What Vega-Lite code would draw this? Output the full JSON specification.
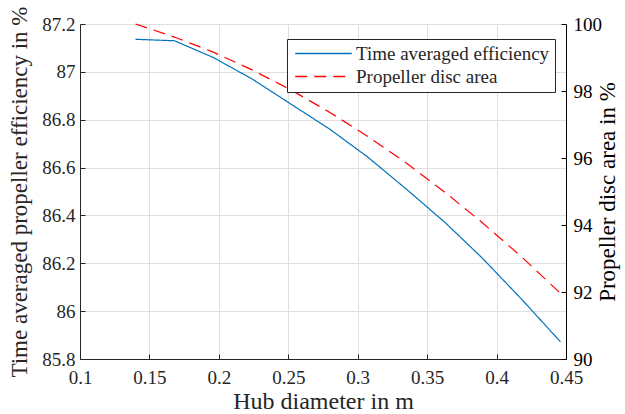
{
  "$schema": "https://vega.github.io/schema/vega-lite/v6.json",
  "width": 486,
  "height": 335,
  "autosize": "none",
  "padding": {"left": 80, "top": 24, "right": 59, "bottom": 55},
  "background": "white",
  "config": {
    "font": "Liberation Serif",
    "view": {"stroke": null},
    "axis": {
      "labelFont": "Liberation Serif",
      "labelFontSize": 19,
      "labelColor": "#262626",
      "titleFont": "Liberation Serif",
      "titleFontSize": 23,
      "titleFontWeight": "normal",
      "titleColor": "#262626",
      "domainColor": "#262626",
      "tickColor": "#262626",
      "gridColor": "#dfdfdf",
      "gridWidth": 1,
      "tickSize": -5,
      "labelPadding": 10,
      "labelFlush": false,
      "labelOverlap": false
    },
    "legend": {
      "labelFont": "Liberation Serif",
      "labelFontSize": 19,
      "labelColor": "#262626",
      "labelLimit": 0
    }
  },
  "data": {
    "values": [
      {"d": 0.140, "eff": 87.136, "area": 100.00},
      {"d": 0.168, "eff": 87.130, "area": 99.61},
      {"d": 0.196, "eff": 87.060, "area": 99.16},
      {"d": 0.224, "eff": 86.970, "area": 98.63},
      {"d": 0.252, "eff": 86.865, "area": 98.03},
      {"d": 0.280, "eff": 86.760, "area": 97.36},
      {"d": 0.307, "eff": 86.645, "area": 96.65},
      {"d": 0.335, "eff": 86.510, "area": 95.85},
      {"d": 0.363, "eff": 86.370, "area": 94.97},
      {"d": 0.390, "eff": 86.220, "area": 94.06},
      {"d": 0.418, "eff": 86.050, "area": 93.05},
      {"d": 0.446, "eff": 85.872, "area": 91.96}
    ]
  },
  "layer": [
    {
      "mark": {"type": "line", "strokeWidth": 1.2},
      "encoding": {
        "x": {
          "field": "d", "type": "quantitative",
          "scale": {"domain": [0.1, 0.45], "nice": false, "zero": false},
          "axis": {
            "title": "Hub diameter in m",
            "titleFontSize": 24,
            "values": [0.1, 0.15, 0.2, 0.25, 0.3, 0.35, 0.4, 0.45],
            "format": "~g",
            "grid": true,
            "labelPadding": 14,
            "titlePadding": 2
          }
        },
        "y": {
          "field": "eff", "type": "quantitative",
          "scale": {"domain": [85.8, 87.2], "nice": false, "zero": false},
          "axis": {
            "orient": "left",
            "title": "Time averaged propeller efficiency in %",
            "values": [85.8, 86, 86.2, 86.4, 86.6, 86.8, 87, 87.2],
            "format": "~g",
            "grid": true,
            "titlePadding": 10
          }
        },
        "color": {
          "datum": "Time averaged efficiency", "type": "nominal",
          "scale": {"domain": ["Time averaged efficiency", "Propeller disc area"], "range": ["#0072BD", "#FF0000"]},
          "legend": {
            "title": null,
            "orient": "none",
            "legendX": 207,
            "legendY": 15,
            "direction": "vertical",
            "symbolType": "M-4,0H4",
            "symbolSize": 200,
            "symbolStrokeWidth": 1.5,
            "symbolOffset": 22,
            "strokeColor": "#262626",
            "fillColor": "white",
            "padding": 5,
            "rowPadding": 3,
            "labelOffset": 23
          }
        },
        "strokeDash": {
          "datum": "Time averaged efficiency", "type": "nominal",
          "scale": {"domain": ["Time averaged efficiency", "Propeller disc area"], "range": [[1, 0], [12, 7]]},
          "legend": null
        }
      }
    },
    {
      "mark": {"type": "line", "strokeWidth": 1.2},
      "encoding": {
        "x": {"field": "d", "type": "quantitative"},
        "y": {
          "field": "area", "type": "quantitative",
          "scale": {"domain": [90, 100], "nice": false, "zero": false},
          "axis": {
            "orient": "right",
            "title": "Propeller disc area in %",
            "values": [90, 92, 94, 96, 98, 100],
            "format": "d",
            "grid": false,
            "titleAngle": 270,
            "titlePadding": 18,
            "labelPadding": 12,
            "domainColor": "black",
            "tickColor": "black",
            "labelColor": "black",
            "titleColor": "black"
          }
        },
        "color": {"datum": "Propeller disc area", "type": "nominal"},
        "strokeDash": {"datum": "Propeller disc area", "type": "nominal"}
      }
    }
  ],
  "resolve": {"scale": {"y": "independent"}}
}
